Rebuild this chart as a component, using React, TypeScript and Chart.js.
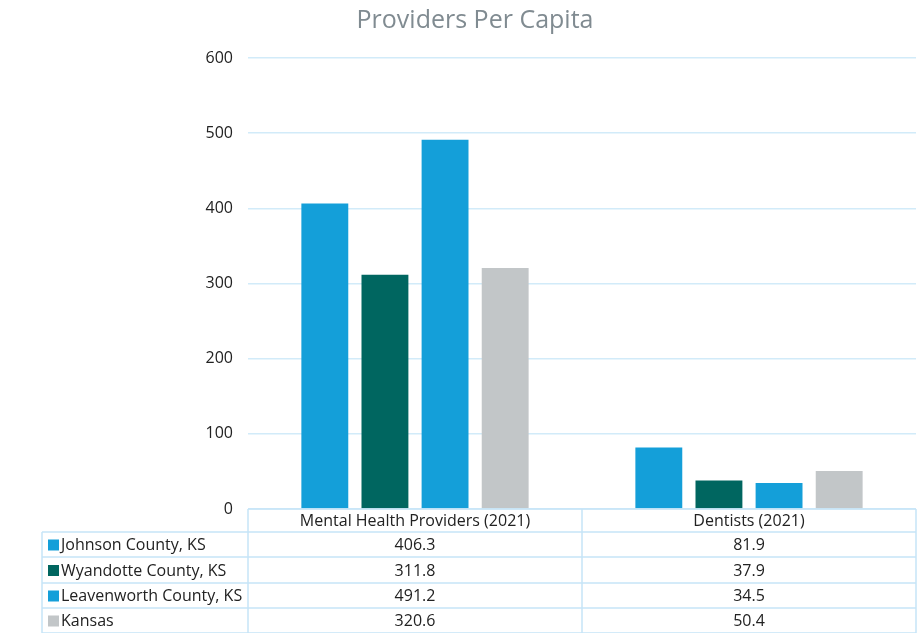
import React, { useEffect, useRef } from "react";
import { Chart, registerables } from "chart.js";

Chart.register(...registerables);

const categories = ["Mental Health Providers (2021)", "Dentists (2021)"];
const seriesNames = ["Johnson County, KS", "Wyandotte County, KS", "Leavenworth County, KS", "Kansas"];
const johnson = [406.3, 81.9];
const wyandotte = [311.8, 37.9];
const leavenworth = [491.2, 34.5];
const kansas = [320.6, 50.4];
const seriesColors = ["#149fd9", "#006660", "#149fd9", "#c2c6c8"];
const titleText = "Providers Per Capita";

const FONT = "'Open Sans', Lato, sans-serif";
const GRID = "#d2ebf9";

const tablePlugin = {
  id: "dataTable",
  afterDraw(chart: any) {
    const ctx = chart.ctx;
    const area = chart.chartArea;
    const x = chart.scales.x;
    ctx.save();
    // title
    ctx.fillStyle = "#808b91";
    ctx.font = `25px ${FONT}`;
    ctx.textAlign = "center";
    ctx.textBaseline = "middle";
    ctx.fillText(titleText, 475, 21);

    const top = area.bottom;
    const rowHs = [23, 25, 26, 25, 25];
    const ys = [top];
    rowHs.forEach((h) => ys.push(ys[ys.length - 1] + h));
    const leftX = 42;
    const colEdges = [area.left];
    const n = categories.length;
    for (let i = 0; i < n; i++) {
      const c = x.getPixelForValue(i);
      const half = (x.getPixelForValue(1) - x.getPixelForValue(0)) / 2;
      colEdges.push(c + half);
    }
    ctx.strokeStyle = "#c6e5f8";
    ctx.lineWidth = 1.5;
    ctx.beginPath();
    ctx.moveTo(area.left, ys[0]);
    ctx.lineTo(colEdges[n], ys[0]);
    for (let r = 1; r < ys.length; r++) {
      ctx.moveTo(leftX, ys[r]);
      ctx.lineTo(colEdges[n], ys[r]);
    }
    ctx.moveTo(leftX, ys[1]);
    ctx.lineTo(leftX, ys[ys.length - 1]);
    colEdges.forEach((cx) => {
      ctx.moveTo(cx, ys[0]);
      ctx.lineTo(cx, ys[ys.length - 1]);
    });
    ctx.stroke();

    ctx.fillStyle = "#222";
    ctx.font = `16px ${FONT}`;
    ctx.textBaseline = "middle";
    ctx.textAlign = "center";
    categories.forEach((c, i) => {
      ctx.fillText(c, x.getPixelForValue(i), (ys[0] + ys[1]) / 2 + 1);
    });
    chart.data.datasets.forEach((ds: any, r: number) => {
      const cy = (ys[r + 1] + ys[r + 2]) / 2 + 1;
      ctx.fillStyle = ds.backgroundColor;
      ctx.fillRect(48, cy - 6, 11, 11);
      ctx.fillStyle = "#222";
      ctx.textAlign = "left";
      ctx.fillText(ds.label, 61, cy);
      ctx.textAlign = "center";
      ds.data.forEach((v: number, i: number) => {
        ctx.fillText(v.toFixed(1), x.getPixelForValue(i), cy);
      });
    });
    ctx.restore();
  },
};

export default function App() {
  const ref = useRef<HTMLCanvasElement>(null);
  useEffect(() => {
    if (!ref.current) return;
    const data = [johnson, wyandotte, leavenworth, kansas];
    const chart = new Chart(ref.current, {
      type: "bar",
      data: {
        labels: categories,
        datasets: seriesNames.map((name, i) => ({
          label: name,
          data: data[i],
          backgroundColor: seriesColors[i],
          borderWidth: 0,
          categoryPercentage: 0.72,
          barPercentage: 0.78,
        })),
      },
      options: {
        responsive: false,
        animation: false,
        layout: { padding: { top: 58, bottom: 124, right: 2, left: 0 } },
        plugins: {
          legend: { display: false },
          title: { display: false },
          tooltip: { enabled: false },
        },
        scales: {
          x: { display: false },
          y: {
            min: 0,
            max: 600,
            ticks: { stepSize: 100, padding: 15, color: "#222", font: { family: FONT, size: 16 } },
            grid: { color: GRID, lineWidth: 1.5, drawTicks: false },
            border: { display: false },
            afterFit: (scale: any) => {
              scale.width = 248;
            },
          },
        },
      },
      plugins: [tablePlugin],
    });
    return () => chart.destroy();
  }, []);
  return (
    <div style={{ position: "absolute", left: 0, top: 0, width: 918, height: 633, background: "#fff" }}>
      <canvas ref={ref} width={918} height={633} />
    </div>
  );
}
